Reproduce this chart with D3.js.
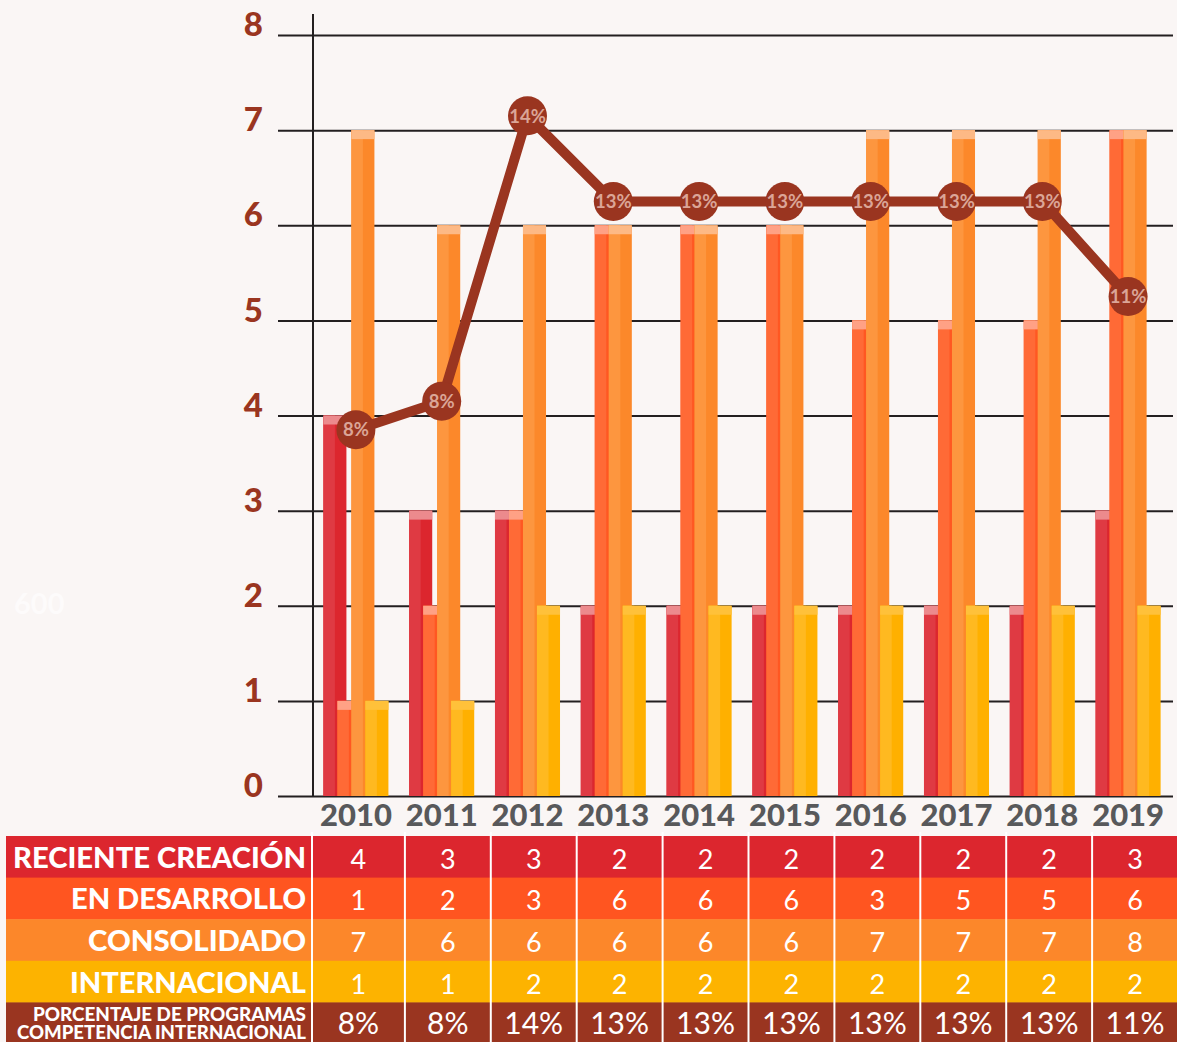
<!DOCTYPE html>
<html><head><meta charset="utf-8">
<script src="https://cdn.jsdelivr.net/npm/d3@7"></script>
<style>
html,body{margin:0;padding:0;background:#faf6f5;}
svg{display:block;}
</style></head>
<body><svg id="c" width="1177" height="1042"></svg>
<script>
const years = ['2010','2011','2012','2013','2014','2015','2016','2017','2018','2019'];
const seriesKeys = ['reciente','desarrollo','consolidado','internacional'];
const seriesNames = ['RECIENTE CREACIÓN','EN DESARROLLO','CONSOLIDADO','INTERNACIONAL'];
// bar heights as drawn in the chart
const barReciente = [4,3,3,2,2,2,2,2,2,3];
const barDesarrollo = [1,2,3,6,6,6,5,5,5,7];
const barConsolidado = [7,6,6,6,6,6,7,7,7,7];
const barInternacional = [1,1,2,2,2,2,2,2,2,2];
// values printed in the table
const tableReciente = [4,3,3,2,2,2,2,2,2,3];
const tableDesarrollo = [1,2,3,6,6,6,3,5,5,6];
const tableConsolidado = [7,6,6,6,6,6,7,7,7,8];
const tableInternacional = [1,1,2,2,2,2,2,2,2,2];
const pctValues = [7.7,8.3,14.3,12.5,12.5,12.5,12.5,12.5,12.5,10.5];
const pctLabels = ['8%','8%','14%','13%','13%','13%','13%','13%','13%','11%'];
const yTicks = [0,1,2,3,4,5,6,7,8];
const pctRowLabel = ['PORCENTAJE DE PROGRAMAS','COMPETENCIA INTERNACIONAL'];

const barSeries = [barReciente, barDesarrollo, barConsolidado, barInternacional];
const tableSeries = [tableReciente, tableDesarrollo, tableConsolidado, tableInternacional];
const barColors = [
  {l:'#df3a43', r:'#dc262e', cap:'#ec8a8d'},
  {l:'#ff6a36', r:'#ff5722', cap:'#ffa185'},
  {l:'#fd963f', r:'#fc882a', cap:'#fdb985'},
  {l:'#ffb920', r:'#ffb000', cap:'#ffc13a'}
];
const rowColors = ['#dc262e','#ff5520','#fc872a','#fdb300','#9a3520'];
const brown = '#9a3520';

const svg = d3.select('#c');
svg.append('rect').attr('width',1177).attr('height',1042).attr('fill','#faf6f5');

svg.append('text').attr('x',14).attr('y',614).text('600')
  .attr('font-family','Lato').attr('font-weight','bold').attr('font-size',29)
  .attr('fill','#fdfbfb');

const y = d3.scaleLinear().domain([0,8]).range([796,35]);
const yPct = d3.scaleLinear().domain([0,16]).range([796,35]);
const x0 = d3.scaleBand().domain(years).range([313,1171]).paddingInner(0.242).paddingOuter(0.121);
const xs = d3.scalePoint().domain(seriesKeys).range([0,42]);
const barW = x0.bandwidth() - 42;

// gridlines + y labels
const gAxis = svg.append('g').attr('transform','translate(278,0)')
  .call(d3.axisLeft(y).tickValues(yTicks).tickSize(-(1173-278)).tickPadding(15).tickFormat(d3.format('d')));
gAxis.select('.domain').remove();
gAxis.selectAll('.tick line').attr('stroke','#231f20').attr('stroke-width',2);
gAxis.selectAll('.tick text').attr('dy','0.02em').attr('fill',brown)
  .attr('font-family','Lato').attr('font-weight','900').attr('font-size',33);

svg.append('line').attr('x1',313).attr('x2',313).attr('y1',14).attr('y2',797)
  .attr('stroke','#231f20').attr('stroke-width',2);

// bars
barSeries.forEach((vals, si) => {
  const g = svg.append('g');
  const c = barColors[si];
  const data = years.map((yr,i)=>({yr, v: vals[i]}));
  const bx = d => x0(d.yr) + xs(seriesKeys[si]);
  g.selectAll('rect.r').data(data).join('rect')
    .attr('x', bx).attr('width', barW).attr('y', d=>y(d.v)).attr('height', d=>y(0)-y(d.v)).attr('fill', c.r);
  g.selectAll('rect.l').data(data).join('rect').attr('class','l')
    .attr('x', bx).attr('width', barW/2).attr('y', d=>y(d.v)).attr('height', d=>y(0)-y(d.v)).attr('fill', c.l);
  g.selectAll('rect.c').data(data).join('rect').attr('class','c')
    .attr('x', bx).attr('width', barW).attr('y', d=>y(d.v)).attr('height', 9).attr('fill', c.cap);
});

// year labels
const gx = svg.append('g').attr('transform','translate(0,796)')
  .call(d3.axisBottom(x0).tickSize(0));
gx.select('.domain').remove();
gx.selectAll('.tick text').attr('y',30).attr('dy','0').attr('fill','#58595b')
  .attr('font-family','Lato').attr('font-weight','900').attr('font-size',31);

// percent line
const cx = i => x0(years[i]) + x0.bandwidth()/2;
const line = d3.line().x((d,i)=>cx(i)).y(d=>yPct(d));
svg.append('path').datum(pctValues).attr('d', line).attr('fill','none')
  .attr('stroke',brown).attr('stroke-width',10).attr('stroke-linejoin','round');
const pts = svg.append('g').selectAll('g').data(pctValues).join('g')
  .attr('transform',(d,i)=>`translate(${cx(i)},${yPct(d)})`);
pts.append('circle').attr('r',19.5).attr('fill',brown);
pts.append('text').text((d,i)=>pctLabels[i]).attr('text-anchor','middle').attr('dy','0.36em')
  .attr('fill','#dba597').attr('font-family','Lato').attr('font-weight','bold').attr('font-size',18.5);

// table
const rows = d3.scaleBand().domain(d3.range(5)).range([836,1044]);
const xt = d3.scaleBand().domain(years).range([319,1178]);
const colL = i => i===0 ? 312 : xt(years[i]);
const colR = i => xt(years[i]) + xt.bandwidth();
rowColors.forEach((col, r) => {
  svg.append('rect').attr('x',6).attr('y',rows(r)).attr('width',1177-6).attr('height',rows.bandwidth()+0.5).attr('fill',col);
});
const labelW = [293, 235, 218, 236];
seriesNames.forEach((nm, r) => {
  svg.append('text').attr('x',306).attr('y',rows(r)+rows.bandwidth()/2+11)
    .attr('text-anchor','end').attr('fill','#fff').attr('font-family','Lato').attr('font-weight','900')
    .attr('font-size',29).attr('textLength',labelW[r]).attr('lengthAdjust','spacingAndGlyphs').text(nm);
  svg.append('g').selectAll('text').data(tableSeries[r]).join('text')
    .attr('x',(d,i)=>(colL(i)+colR(i))/2).attr('y',rows(r)+rows.bandwidth()/2+12)
    .attr('text-anchor','middle').attr('fill','#fff').attr('font-family','Lato').attr('font-weight','normal')
    .attr('font-size',27).text(d=>d);
});
const pctLW = [273, 289];
pctRowLabel.forEach((t, k) => {
  svg.append('text').attr('x',306).attr('y', rows(4) + 19 + k*17.5)
    .attr('text-anchor','end').attr('fill','#fff').attr('font-family','Lato').attr('font-weight','900')
    .attr('font-size',18).attr('textLength',pctLW[k]).attr('lengthAdjust','spacingAndGlyphs').text(t);
});
svg.append('g').selectAll('text').data(pctLabels).join('text')
  .attr('x',(d,i)=>(colL(i)+colR(i))/2).attr('y',rows(4)+32)
  .attr('text-anchor','middle').attr('fill','#fff').attr('font-family','Lato')
  .attr('font-size',30).text(d=>d);
// separators
svg.append('g').selectAll('line').data(years).join('line')
  .attr('x1',(d,i)=>colL(i)).attr('x2',(d,i)=>colL(i)).attr('y1',832).attr('y2',1042)
  .attr('stroke','#fff').attr('stroke-width',2);
</script></body></html>
